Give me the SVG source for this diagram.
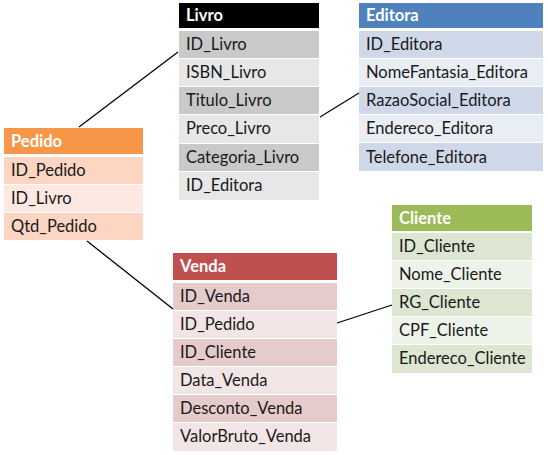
<svg xmlns="http://www.w3.org/2000/svg" width="548" height="455" viewBox="0 0 548 455">
<style>
text{font-family:Lato,"Open Sans","Liberation Sans",sans-serif;font-size:16.5px;fill:#1a1a1a}
.h{font-weight:bold;fill:#fff}
.c line{stroke:#000;stroke-width:1.3}
.lv1{fill:#c9c9c9}.lv2{fill:#e7e7e7}
.ed1{fill:#cfd8e8}.ed2{fill:#e9edf4}
.pe1{fill:#fcd5c3}.pe2{fill:#fde9e1}
.ve1{fill:#e6cbcb}.ve2{fill:#f2e5e5}
.cl1{fill:#dce6d0}.cl2{fill:#eef3e9}
</style>
<rect width="548" height="455" fill="#fff"/>
<g class="c" id="connectors">
<line x1="79" y1="127" x2="178" y2="52"/>
<line x1="320" y1="117" x2="359" y2="93"/>
<line x1="87" y1="241" x2="173" y2="309"/>
<line x1="337" y1="323" x2="392" y2="305"/>
</g>
<g id="livro">
<rect x="179" y="3" width="140" height="25" fill="#000"/>
<text class="h" x="186" y="21">Livro</text>
<rect class="lv1" x="179" y="31" width="140" height="27"/>
<rect class="lv2" x="179" y="59" width="140" height="27"/>
<rect class="lv1" x="179" y="87" width="140" height="27"/>
<rect class="lv2" x="179" y="115" width="140" height="28"/>
<rect class="lv1" x="179" y="144" width="140" height="27"/>
<rect class="lv2" x="179" y="172" width="140" height="28"/>
<text x="186" y="50">ID_Livro</text>
<text x="186" y="78">ISBN_Livro</text>
<text x="186" y="106">Titulo_Livro</text>
<text x="186" y="134">Preco_Livro</text>
<text x="186" y="163">Categoria_Livro</text>
<text x="186" y="191">ID_Editora</text>
</g>
<g id="editora">
<rect x="359" y="3" width="184" height="25" fill="#4f81bd"/>
<text class="h" x="366" y="21">Editora</text>
<rect class="ed1" x="359" y="31" width="184" height="27"/>
<rect class="ed2" x="359" y="59" width="184" height="27"/>
<rect class="ed1" x="359" y="87" width="184" height="27"/>
<rect class="ed2" x="359" y="115" width="184" height="27"/>
<rect class="ed1" x="359" y="143" width="184" height="28"/>
<text x="366" y="50">ID_Editora</text>
<text x="366" y="78">NomeFantasia_Editora</text>
<text x="366" y="106">RazaoSocial_Editora</text>
<text x="366" y="134">Endereco_Editora</text>
<text x="366" y="163">Telefone_Editora</text>
</g>
<g id="pedido">
<rect x="4" y="128" width="139" height="26" fill="#f79646"/>
<text class="h" x="11" y="147">Pedido</text>
<rect class="pe1" x="4" y="157" width="139" height="27"/>
<rect class="pe2" x="4" y="185" width="139" height="27"/>
<rect class="pe1" x="4" y="213" width="139" height="27"/>
<text x="11" y="176">ID_Pedido</text>
<text x="11" y="204">ID_Livro</text>
<text x="11" y="232">Qtd_Pedido</text>
</g>
<g id="venda">
<rect x="173" y="253" width="164" height="27" fill="#c0504d"/>
<text class="h" x="180" y="272">Venda</text>
<rect class="ve1" x="173" y="283" width="164" height="27"/>
<rect class="ve2" x="173" y="311" width="164" height="27"/>
<rect class="ve1" x="173" y="339" width="164" height="27"/>
<rect class="ve2" x="173" y="367" width="164" height="27"/>
<rect class="ve1" x="173" y="395" width="164" height="27"/>
<rect class="ve2" x="173" y="423" width="164" height="28"/>
<text x="180" y="302">ID_Venda</text>
<text x="180" y="330">ID_Pedido</text>
<text x="180" y="358">ID_Cliente</text>
<text x="180" y="386">Data_Venda</text>
<text x="180" y="414">Desconto_Venda</text>
<text x="180" y="442">ValorBruto_Venda</text>
</g>
<g id="cliente">
<rect x="392" y="205" width="140" height="26" fill="#9bbb59"/>
<text class="h" x="399" y="224">Cliente</text>
<rect class="cl1" x="392" y="233" width="140" height="27"/>
<rect class="cl2" x="392" y="261" width="140" height="27"/>
<rect class="cl1" x="392" y="289" width="140" height="27"/>
<rect class="cl2" x="392" y="317" width="140" height="27"/>
<rect class="cl1" x="392" y="345" width="140" height="28"/>
<text x="399" y="252">ID_Cliente</text>
<text x="399" y="280">Nome_Cliente</text>
<text x="399" y="308">RG_Cliente</text>
<text x="399" y="336">CPF_Cliente</text>
<text x="399" y="364">Endereco_Cliente</text>
</g>
</svg>
